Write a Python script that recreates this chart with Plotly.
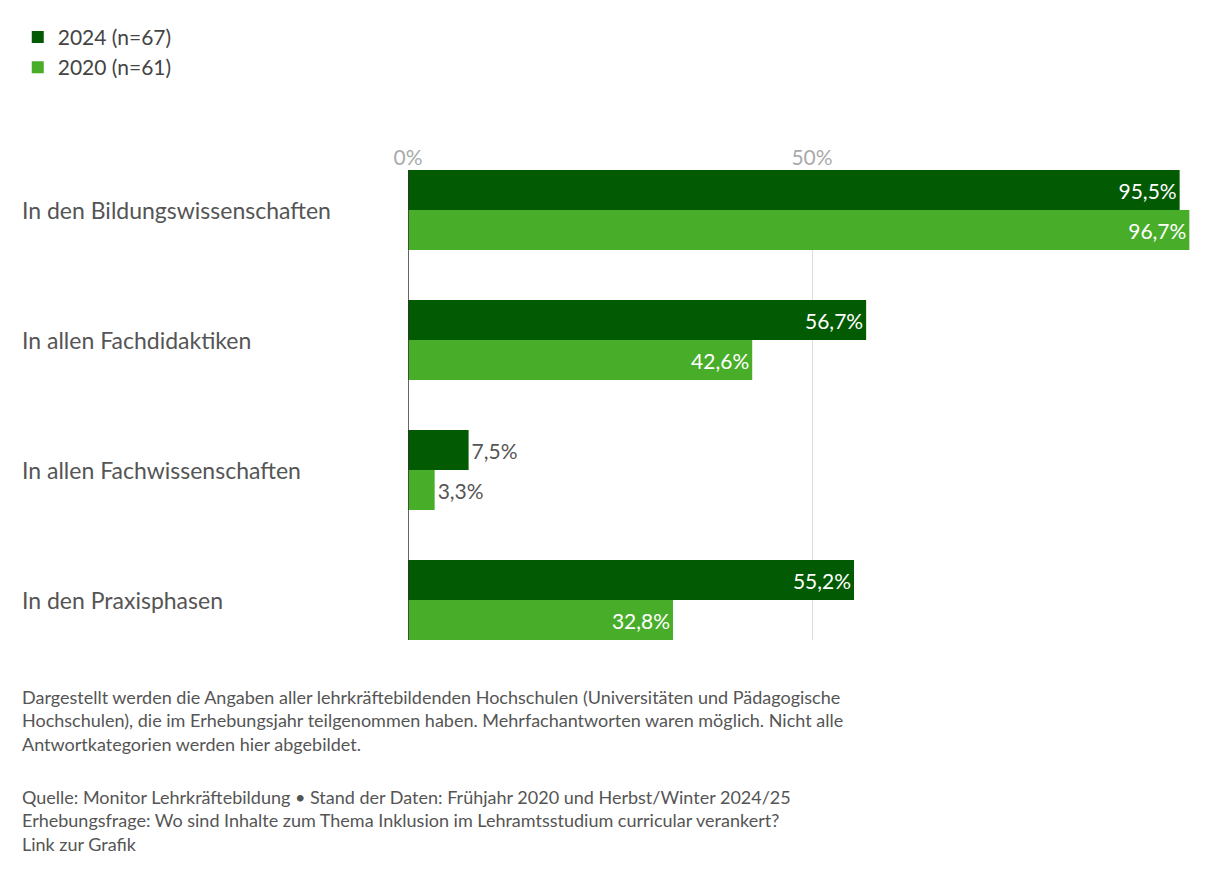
import plotly.graph_objects as go

categories = ["In den Bildungswissenschaften", "In allen Fachdidaktiken", "In allen Fachwissenschaften", "In den Praxisphasen"]
v2024 = [95.5, 56.7, 7.5, 55.2]
v2020 = [96.7, 42.6, 3.3, 32.8]
ticks = [0, 50, 100]
tick_labels = ["0%", "50%", "100%"]

def lab(v): return f"{v:.1f}".replace(".", ",") + "%"
def pos(vals): return ["inside" if v > 20 else "outside" for v in vals]
def col(vals): return ["white" if v > 20 else "#555" for v in vals]

PL, PR, PT, PB = 400, 1208, 162, 632
def px(x): return (x - PL) / (PR - PL)
def py(y): return (PB - y) / (PB - PT)

ypos = list(range(len(categories)))
F = "Lato, sans-serif"
fig = go.Figure()
for name, vals, c in [("2024 (n=67)", v2024, "#025a02"), ("2020 (n=61)", v2020, "#48ae29")]:
    fig.add_bar(y=ypos, x=vals, orientation="h", name=name, marker=dict(color=c, line_width=0),
                text=[lab(v) for v in vals], textposition=pos(vals), insidetextanchor="end",
                textfont=dict(size=21, color=col(vals), family=F), cliponaxis=False)

fig.update_layout(
    width=1220, height=874, barmode="group", bargap=0.3846, bargroupgap=0,
    margin=dict(l=PL, r=1220 - PR, t=PT, b=874 - PB), plot_bgcolor="white", paper_bgcolor="white",
    font=dict(family=F, color="#555"),
    xaxis=dict(side="top", range=[0, 100], tickvals=ticks, ticktext=tick_labels, showgrid=True,
               gridcolor="#ddd", zeroline=False, tickfont=dict(size=21, color="#aaa"), ticks="", fixedrange=True),
    yaxis=dict(range=[3.3077, -0.3077], showticklabels=False, showgrid=False, zeroline=False,
               showline=False),
    legend=dict(xref="container", yref="container", x=0.008, y=0.99, yanchor="top", xanchor="left",
                font=dict(size=21, color="#444"), traceorder="normal", itemwidth=30, tracegroupgap=4),
)
fig.add_shape(type="line", x0=0, x1=0, y0=0, y1=1, xref="x", yref="paper", line=dict(color="#333", width=1.5))
for i, c in enumerate(categories):
    fig.add_annotation(x=px(12), xref="paper", y=i, yref="y", text=c, showarrow=False, xanchor="left",
                       font=dict(size=23, color="#555"))
footer = [
    (676, "Dargestellt werden die Angaben aller lehrkräftebildenden Hochschulen (Universitäten und Pädagogische<br>Hochschulen), die im Erhebungsjahr teilgenommen haben. Mehrfachantworten waren möglich. Nicht alle<br>Antwortkategorien werden hier abgebildet."),
    (776, "Quelle: Monitor Lehrkräftebildung • Stand der Daten: Frühjahr 2020 und Herbst/Winter 2024/25<br>Erhebungsfrage: Wo sind Inhalte zum Thema Inklusion im Lehramtsstudium curricular verankert?<br>Link zur Grafik"),
]
for y, t in footer:
    fig.add_annotation(x=px(12), y=py(y), xref="paper", yref="paper", text=t, showarrow=False,
                       xanchor="left", yanchor="top", align="left", font=dict(size=18, color="#555"))
fig.write_html("out.html")
